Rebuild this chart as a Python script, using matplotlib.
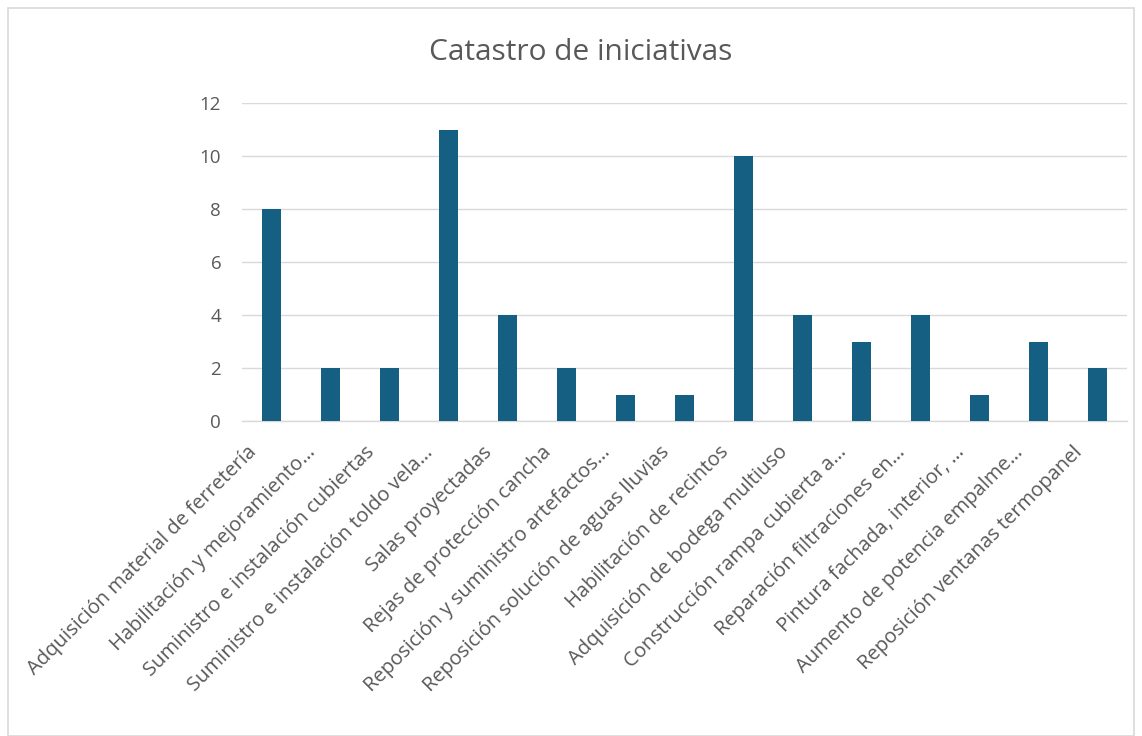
import matplotlib
matplotlib.use("Agg")
import matplotlib.pyplot as plt
from matplotlib.patches import Rectangle
from matplotlib.transforms import ScaledTranslation

categories = [
    "Adquisición material de ferretería",
    "Habilitación y mejoramiento…",
    "Suministro e instalación cubiertas",
    "Suministro e instalación toldo vela…",
    "Salas proyectadas",
    "Rejas de protección cancha",
    "Reposición y suministro artefactos…",
    "Reposición solución de aguas lluvias",
    "Habilitación de recintos",
    "Adquisición de bodega multiuso",
    "Construcción rampa cubierta a…",
    "Reparación filtraciones en…",
    "Pintura fachada, interior, …",
    "Aumento de potencia empalme…",
    "Reposición ventanas termopanel",
]
values = [8, 2, 2, 11, 4, 2, 1, 1, 10, 4, 3, 4, 1, 3, 2]
yticks = [0, 2, 4, 6, 8, 10, 12]
title = "Catastro de iniciativas"

plt.rcParams['font.family'] = ['Open Sans', 'DejaVu Sans']
textc = "#595959"

fig = plt.figure(figsize=(11.42, 7.36), dpi=100)
fig.patches.append(Rectangle((8/1142, 0), 1 - 16/1142, 1 - 8/736, transform=fig.transFigure,
                             fill=False, edgecolor="#d9d9d9", linewidth=1.2))
ax = fig.add_axes([242/1142, 1 - 421/736, 885/1142, 318/736])
x = list(range(len(categories)))
ax.bar(x, values, width=0.32, color="#156082", zorder=3)
ax.set_xlim(-0.5, len(categories) - 0.5)
ax.set_ylim(0, 12)
ax.set_yticks(yticks)
ax.set_yticklabels([str(v) for v in yticks], fontsize=13.5, color=textc)
ax.tick_params(axis='y', length=0, pad=15)
ax.tick_params(axis='x', length=0, pad=6)
ax.set_xticks(x)
ax.set_xticklabels(categories, rotation=45, ha='right', rotation_mode='anchor',
                   fontsize=14.5, color=textc)
off = ScaledTranslation(-25/100, -13/100, fig.dpi_scale_trans)
for lab in ax.get_xticklabels():
    lab.set_transform(lab.get_transform() + off)
ax.grid(axis='y', color="#d9d9d9", linewidth=1, zorder=0)
for s in ['top', 'right', 'left']:
    ax.spines[s].set_visible(False)
ax.spines['bottom'].set_color("#d9d9d9")
ax.spines['bottom'].set_linewidth(1)
fig.text(581/1142, 1 - 52/736, title, ha='center', va='center', fontsize=21.5, color=textc)

fig.savefig("out.png", dpi=100)
